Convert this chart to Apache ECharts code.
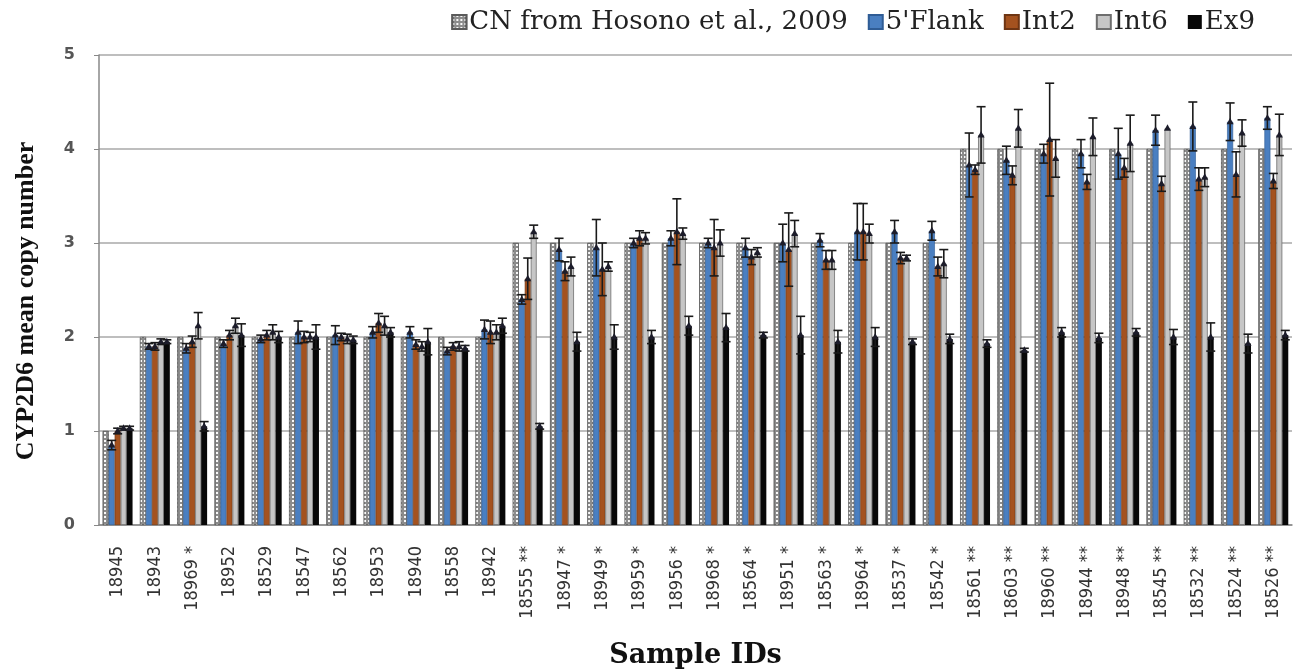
<!DOCTYPE html>
<html>
<head>
<meta charset="utf-8">
<script src="https://cdn.jsdelivr.net/npm/echarts@6/dist/echarts.min.js"></script>
<style>
html, body { margin: 0; padding: 0; background: #fff; }
#main { width: 1296px; height: 670px; }
</style>
</head>
<body>
<div id="main"></div>
<script>
var samples = ['18945', '18943', '18969 *', '18952', '18529', '18547', '18562', '18953', '18940', '18558', '18942',
	'18555 **', '18947 *', '18949 *', '18959 *', '18956 *', '18968 *', '18564 *', '18951 *', '18563 *', '18964 *', '18537 *', '18542 *',
	'18561 **', '18603 **', '18960 **', '18944 **', '18948 **', '18545 **', '18532 **', '18524 **', '18526 **'];

var cn_hosono = [1, 2, 2, 2, 2, 2, 2, 2, 2, 2, 2,
	3, 3, 3, 3, 3, 3, 3, 3, 3, 3, 3, 3,
	4, 4, 4, 4, 4, 4, 4, 4, 4];

var flank = [0.85, 1.9, 1.88, 1.93, 1.98, 2.05, 2.02, 2.05, 2.05, 1.85, 2.08,
	2.4, 2.93, 2.95, 3.0, 3.05, 3.0, 2.95, 3.0, 3.03, 3.12, 3.12, 3.13,
	3.83, 3.88, 3.95, 3.95, 3.95, 4.2, 4.24, 4.29, 4.33];
var flank_err = [0.05, 0.03, 0.05, 0.04, 0.04, 0.12, 0.1, 0.06, 0.06, 0.04, 0.1,
	0.05, 0.12, 0.3, 0.05, 0.08, 0.05, 0.1, 0.2, 0.07, 0.3, 0.12, 0.1,
	0.34, 0.15, 0.1, 0.15, 0.27, 0.16, 0.26, 0.2, 0.12];

var int2 = [1.0, 1.9, 1.95, 2.02, 2.02, 2.0, 2.0, 2.15, 1.92, 1.9, 2.05,
	2.62, 2.7, 2.72, 3.05, 3.12, 2.95, 2.85, 2.93, 2.82, 3.12, 2.84, 2.75,
	3.78, 3.72, 4.1, 3.65, 3.8, 3.63, 3.68, 3.73, 3.66];
var int2_err = [0.03, 0.04, 0.06, 0.05, 0.05, 0.06, 0.04, 0.1, 0.05, 0.04, 0.12,
	0.22, 0.1, 0.28, 0.08, 0.35, 0.3, 0.08, 0.39, 0.1, 0.3, 0.06, 0.1,
	0.05, 0.1, 0.6, 0.08, 0.1, 0.08, 0.12, 0.24, 0.08];

var int6 = [1.03, 1.95, 2.12, 2.12, 2.05, 2.0, 1.98, 2.12, 1.9, 1.9, 2.05,
	3.12, 2.75, 2.75, 3.05, 3.1, 3.0, 2.9, 3.1, 2.82, 3.1, 2.84, 2.78,
	4.15, 4.22, 3.9, 4.13, 4.06, 4.22, 3.7, 4.17, 4.15];
var int6_err = [0.02, 0.03, 0.14, 0.08, 0.08, 0.05, 0.05, 0.1, 0.05, 0.05, 0.08,
	0.07, 0.1, 0.05, 0.06, 0.06, 0.14, 0.05, 0.14, 0.1, 0.1, 0.03, 0.15,
	0.3, 0.2, 0.2, 0.2, 0.3, 0.0, 0.1, 0.14, 0.22];

var ex9 = [1.03, 1.95, 1.05, 2.02, 2.0, 2.0, 1.97, 2.05, 1.95, 1.88, 2.12,
	1.05, 1.95, 2.0, 2.0, 2.12, 2.1, 2.02, 2.02, 1.95, 2.0, 1.95, 1.98,
	1.93, 1.86, 2.05, 1.99, 2.05, 2.0, 2.0, 1.93, 2.02];
var ex9_err = [0.02, 0.02, 0.05, 0.12, 0.06, 0.13, 0.04, 0.05, 0.14, 0.03, 0.08,
	0.03, 0.1, 0.13, 0.07, 0.1, 0.15, 0.03, 0.2, 0.12, 0.1, 0.03, 0.05,
	0.04, 0.02, 0.05, 0.05, 0.04, 0.08, 0.15, 0.1, 0.05];

var y_ticks = [0, 1, 2, 3, 4, 5];

var chart = echarts.init(document.getElementById('main'));

var serif = '"Liberation Serif", "DejaVu Serif", serif';
var wideSerif = '"DejaVu Serif", "Liberation Serif", serif';
var GROUP_FRAC = 0.8;

function errData(vals, errs) {
	var out = [];
	for (var i = 0; i < vals.length; i++) out.push([i, vals[i], errs[i]]);
	return out;
}

// error bars + triangle marker, placed over bar k of each group
function errSeries(k, vals, errs) {
	return {
		type: 'custom',
		name: 'err' + k,
		z: 10,
		silent: true,
		encode: { x: 0, y: 1 },
		data: errData(vals, errs),
		renderItem: function(params, api) {
			var i = api.value(0), v = api.value(1), e = api.value(2);
			var band = api.size([1, 0])[0];
			var bw = band * GROUP_FRAC / 5;
			var x = api.coord([i, v])[0] + (k - 2) * bw;
			var yv = api.coord([i, v])[1];
			var hi = api.coord([i, v + e])[1];
			var lo = api.coord([i, v - e])[1];
			var cap = 4.5;
			var st = { stroke: '#1a1a1a', lineWidth: 1.6 };
			var kids = [];
			if (e > 0) {
				kids.push({ type: 'line', shape: { x1: x, y1: hi, x2: x, y2: lo }, style: st });
				kids.push({ type: 'line', shape: { x1: x - cap, y1: hi, x2: x + cap, y2: hi }, style: st });
				kids.push({ type: 'line', shape: { x1: x - cap, y1: lo, x2: x + cap, y2: lo }, style: st });
			}
			kids.push({ type: 'polygon', shape: { points: [[x, yv - 4], [x - 3.5, yv + 2.5], [x + 3.5, yv + 2.5]] }, style: { fill: '#1c1c2a' } });
			return { type: 'group', children: kids };
		}
	};
}

var option = {
	animation: false,
	backgroundColor: '#fff',
	legend: {
		data: ['CN from Hosono et al., 2009', "5'Flank", 'Int2', 'Int6', 'Ex9'],
		right: 36,
		top: 4,
		itemWidth: 14,
		itemHeight: 14,
		itemGap: 20,
		icon: 'rect',
		textStyle: { fontFamily: wideSerif, fontSize: 26, color: '#222', padding: [0, 0, 0, -2] }
	},
	grid: {
		left: 99,
		right: 4,
		top: 55,
		bottom: 145,
		outerBoundsMode: 'none'
	},
	xAxis: {
		type: 'category',
		data: samples,
		name: 'Sample IDs',
		nameLocation: 'middle',
		nameGap: 117,
		nameTextStyle: { fontFamily: wideSerif, fontSize: 27, fontWeight: 'bold', color: '#111' },
		axisLine: { lineStyle: { color: '#888', width: 1.5 } },
		axisTick: { show: false },
		axisLabel: {
			rotate: 90,
			margin: 21,
			interval: 0,
			fontFamily: '"DejaVu Sans Condensed", "DejaVu Sans", sans-serif',
			fontSize: 18,
			color: '#333'
		}
	},
	yAxis: {
		type: 'value',
		min: y_ticks[0],
		max: y_ticks[y_ticks.length - 1],
		interval: 1,
		name: 'CYP2D6 mean copy number',
		nameLocation: 'middle',
		nameGap: 60,
		nameTextStyle: { fontFamily: serif, fontSize: 26, fontWeight: 'bold', color: '#111', padding: [0, 22, 0, 0] },
		axisLine: { show: true, lineStyle: { color: '#888', width: 1.5 } },
		axisTick: { show: true, length: 5, lineStyle: { color: '#888' } },
		axisLabel: { fontFamily: '"DejaVu Sans", sans-serif', fontWeight: 'bold', fontSize: 16, color: '#555', margin: 24 },
		splitLine: { lineStyle: { color: '#a8a8a8', width: 1.5 } }
	},
	series: [
		{
			name: 'CN from Hosono et al., 2009',
			type: 'bar',
			data: cn_hosono,
			barCategoryGap: '20%',
			barGap: '0%',
			itemStyle: {
				color: '#8c8c8c',
				borderColor: '#5a5a5a',
				borderWidth: 0.6,
				decal: {
					symbol: 'rect',
					symbolSize: 1,
					color: 'rgba(255,255,255,0.95)',
					dashArrayX: [2, 2],
					dashArrayY: [2, 2]
				}
			}
		},
		{
			name: "5'Flank",
			type: 'bar',
			data: flank,
			barGap: '0%',
			itemStyle: { color: '#4a7fc1', borderColor: '#2f5c95', borderWidth: 0.6 }
		},
		{
			name: 'Int2',
			type: 'bar',
			data: int2,
			barGap: '0%',
			itemStyle: { color: '#a4521f', borderColor: '#6e3513', borderWidth: 0.6 }
		},
		{
			name: 'Int6',
			type: 'bar',
			data: int6,
			barGap: '0%',
			itemStyle: { color: '#c6c6c6', borderColor: '#6e6e6e', borderWidth: 0.8 }
		},
		{
			name: 'Ex9',
			type: 'bar',
			data: ex9,
			barGap: '0%',
			itemStyle: { color: '#080808' }
		},
		errSeries(1, flank, flank_err),
		errSeries(2, int2, int2_err),
		errSeries(3, int6, int6_err),
		errSeries(4, ex9, ex9_err)
	]
};

chart.setOption(option);
</script>
</body>
</html>
